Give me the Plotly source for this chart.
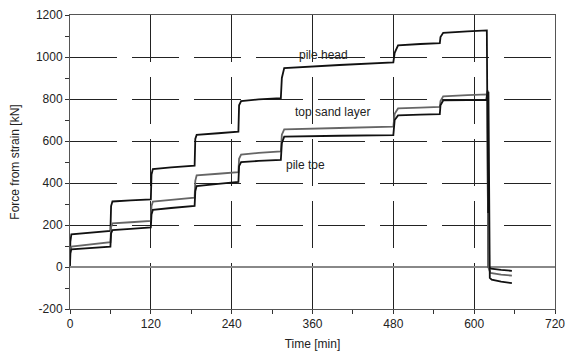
import plotly.graph_objects as go

# ---- data (time in min, force in kN) ----
head_t = [0, 0.5, 2, 30, 60, 61, 63, 90, 120, 121, 123, 150, 185, 186, 188, 220,
          250, 251, 254, 280, 313, 314.5, 318, 400, 480, 482, 487, 520, 549, 550,
          554, 590, 618, 618.8, 621, 625, 640, 656]
head_v = [25, 120, 155, 163, 172, 290, 312, 317, 322, 440, 466, 474, 483, 610,
          629, 637, 645, 770, 790, 798, 804, 900, 947, 962, 974, 1020, 1055, 1062,
          1066, 1095, 1115, 1122, 1127, 1127, 0, -8, -14, -18]

sand_t = [0, 0.5, 2, 30, 60, 61, 63, 90, 120, 121, 123, 150, 185, 186, 188, 220,
          250, 251, 254, 280, 313, 314.5, 318, 400, 480, 482, 487, 520, 549, 550,
          554, 590, 618, 619.5, 621, 624, 640, 656]
sand_v = [10, 80, 97, 108, 118, 190, 208, 213, 219, 290, 311, 320, 330, 410, 436,
          444, 452, 515, 535, 543, 550, 630, 655, 662, 668, 730, 755, 759, 762, 790,
          813, 818, 822, 822, 0, -28, -36, -41]

toe_t = [0, 0.5, 2, 30, 60, 61, 63, 90, 120, 121, 123, 150, 185, 186, 188, 220,
         250, 251, 254, 280, 313, 314.5, 318, 400, 480, 482, 487, 520, 549, 550,
         554, 590, 618, 620, 620.8, 621.2, 621.8, 622.4, 623.2, 626, 640, 656]
toe_v = [5, 65, 84, 90, 97, 160, 176, 182, 189, 250, 272, 281, 291, 360, 385, 396,
         405, 480, 500, 505, 510, 590, 621, 625, 628, 700, 722, 726, 728, 770, 793,
         795, 796, 840, 257, 835, 255, -40, -52, -60, -70, -77]

x_ticks = [0, 120, 240, 360, 480, 600, 720]
x_labels = ["0", "120", "240", "360", "480", "600", "720"]
y_ticks = [-200, 0, 200, 400, 600, 800, 1000, 1200]
y_labels = ["-200", "0", "200", "400", "600", "800", "1000", "1200"]

font = dict(family="Liberation Sans, Arial, sans-serif", size=12, color="#222222")

fig = go.Figure()
fig.add_trace(go.Scatter(x=head_t, y=head_v, mode="lines", name="pile head",
                         line=dict(color="#111111", width=1.8)))
fig.add_trace(go.Scatter(x=sand_t, y=sand_v, mode="lines", name="top sand layer",
                         line=dict(color="#666666", width=1.8)))
fig.add_trace(go.Scatter(x=toe_t, y=toe_v, mode="lines", name="pile toe",
                         line=dict(color="#111111", width=1.8)))

fig.update_layout(
    width=570, height=354,
    margin=dict(l=70, r=15, t=15, b=45, autoexpand=False),
    paper_bgcolor="white", plot_bgcolor="white",
    showlegend=False, font=font,
    annotations=[
        dict(x=377, y=1008, text="pile head", showarrow=False, font=font),
        dict(x=390, y=736, text="top sand layer", showarrow=False, font=font),
        dict(x=349, y=484, text="pile toe", showarrow=False, font=font),
    ],
)
fig.update_xaxes(
    range=[0, 720], tickvals=x_ticks, ticktext=x_labels, ticks="outside", ticklen=4,
    tickcolor="#333333", showline=True, linecolor="#555555", linewidth=1,
    mirror=True, showgrid=True, gridcolor="#222222", gridwidth=1,
    griddash="47px,15px", zeroline=False, automargin=False,
    minor=dict(dtick=60, ticks="outside", ticklen=4, tickcolor="#333333", showgrid=False),
    title=dict(text="Time [min]", font=font, standoff=9),
)
fig.update_yaxes(
    range=[-200, 1200], tickvals=y_ticks, ticktext=y_labels, ticks="outside", ticklen=4,
    tickcolor="#333333", showline=True, linecolor="#555555", linewidth=1,
    mirror=True, showgrid=True, gridcolor="#222222", gridwidth=1,
    griddash="47px,15px", zeroline=True, zerolinecolor="#888888", zerolinewidth=2,
    automargin=False,
    minor=dict(dtick=100, ticks="outside", ticklen=4, tickcolor="#333333", showgrid=False),
    title=dict(text="Force from strain [kN]", font=font, standoff=13),
)
fig.write_html(
    "out.html",
    config={"displayModeBar": False},
    post_script="document.body.style.margin='0';document.body.style.overflow='hidden';",
)
